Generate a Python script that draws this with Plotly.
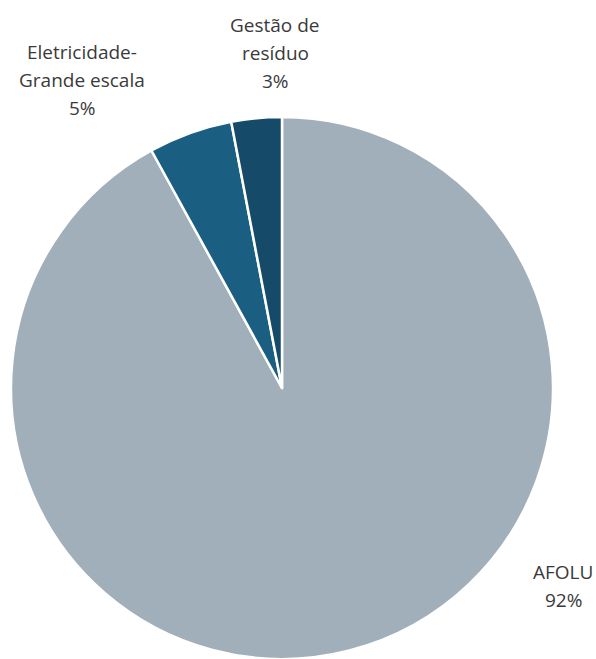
import plotly.graph_objects as go

# Emission shares by sector
sectors = ["AFOLU", "Eletricidade-Grande escala", "Gestão de resíduo"]
shares = [92, 5, 3]
label_lines = [["AFOLU"], ["Eletricidade-", "Grande escala"], ["Gestão de", "resíduo"]]
colors = ["#A1AFBA", "#1A5F82", "#154B68"]

W, H = 596, 659

fig = go.Figure(
    go.Pie(
        labels=sectors,
        values=shares,
        sort=False,
        direction="clockwise",
        rotation=0,
        textinfo="none",
        hoverinfo="label+percent",
        marker=dict(colors=colors, line=dict(color="white", width=2.5)),
        domain=dict(x=[10 / W, 554 / W], y=[0, 1 - 117 / H]),
        showlegend=False,
    )
)

# Label placement (pixel centres of each text block)
label_pos = [(563, 572), (82, 52), (275, 25)]
line_gap = 28
annotations = []
for lines, value, (px, py) in zip(label_lines, shares, label_pos):
    for i, txt in enumerate(lines + [f"{value}%"]):
        annotations.append(
            dict(
                x=px / W,
                y=1 - (py + i * line_gap) / H,
                xref="paper",
                yref="paper",
                text=txt,
                showarrow=False,
                xanchor="center",
                yanchor="middle",
                font=dict(family="Open Sans, sans-serif", size=19, color="#3A3A3A"),
            )
        )

fig.update_layout(
    width=W,
    height=H,
    margin=dict(l=0, r=0, t=0, b=0),
    paper_bgcolor="white",
    plot_bgcolor="white",
    annotations=annotations,
)

fig.write_html("out.html")
